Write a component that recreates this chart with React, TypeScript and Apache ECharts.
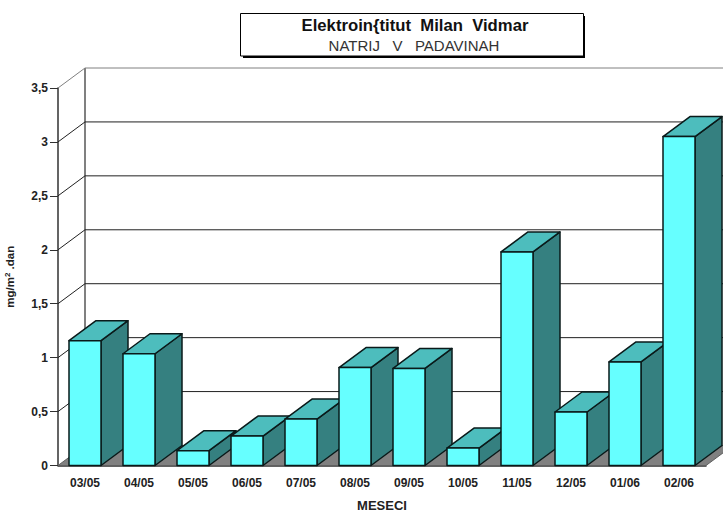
import React, { useEffect, useRef } from "react";
import * as echarts from "echarts";

const categories = ["03/05", "04/05", "05/05", "06/05", "07/05", "08/05", "09/05", "10/05", "11/05", "12/05", "01/06", "02/06"];
const values = [1.157, 1.036, 0.137, 0.273, 0.43, 0.908, 0.9, 0.162, 1.98, 0.496, 0.96, 3.05];
const yTicks = [0, 0.5, 1, 1.5, 2, 2.5, 3, 3.5];
const titleMain = "Elektroin{titut  Milan  Vidmar";
const titleSub = "NATRIJ   V   PADAVINAH";
const xName = "MESECI";

const DX = 27;
const DY = 20;
const BAR_W = 32;
const FONT = "'Liberation Sans', Arial, sans-serif";
const EDGE = "#0a1a1a";

function renderWall(params: any, api: any) {
  const cs = params.coordSys;
  const v = api.value(1);
  const y = api.coord([0, v])[1];
  const isTop = v === yTicks[yTicks.length - 1];
  const color = isTop ? "#808080" : "#202020";
  const children: any[] = [];
  if (v === 0) {
    children.push({
      type: "polygon",
      shape: { points: [[cs.x, y], [cs.x + DX, y - DY], [cs.x + cs.width + DX, y - DY], [cs.x + cs.width, y]] },
      style: { fill: "#808080", stroke: "#606060", lineWidth: 1 },
    });
    children.push({
      type: "line",
      shape: { x1: cs.x + DX, y1: y - DY, x2: cs.x + DX, y2: cs.y - DY },
      style: { stroke: "#808080", lineWidth: 2 },
    });
  } else {
    children.push({
      type: "line",
      shape: { x1: cs.x + DX, y1: y - DY, x2: cs.x + cs.width + DX, y2: y - DY },
      style: { stroke: color, lineWidth: 1 },
    });
    children.push({
      type: "line",
      shape: { x1: cs.x, y1: y, x2: cs.x + DX, y2: y - DY },
      style: { stroke: color, lineWidth: 1 },
    });
  }
  return { type: "group", children };
}

function renderBar(_params: any, api: any) {
  const idx = api.value(0);
  const top = api.coord([idx, api.value(1)]);
  const base = api.coord([idx, 0]);
  const l = top[0] - BAR_W / 2;
  const r = top[0] + BAR_W / 2;
  const t = top[1];
  const b = base[1];
  const border = { stroke: EDGE, lineWidth: 1.5, lineJoin: "round" };
  return {
    type: "group",
    children: [
      {
        type: "polygon",
        shape: { points: [[r, b], [r + DX, b - DY], [r + DX, t - DY], [r, t]] },
        style: { fill: "#358080", ...border },
      },
      {
        type: "polygon",
        shape: { points: [[l, t], [l + DX, t - DY], [r + DX, t - DY], [r, t]] },
        style: { fill: "#4DBDBD", ...border },
      },
      {
        type: "polygon",
        shape: { points: [[l, b], [l, t], [r, t], [r, b]] },
        style: { fill: "#66FFFF", ...border },
      },
    ],
  };
}

export default function App() {
  const ref = useRef<HTMLDivElement>(null);
  useEffect(() => {
    const chart = echarts.init(ref.current!, null, { renderer: "svg" });
    chart.setOption({
      animation: false,
      backgroundColor: "#ffffff",
      grid: { left: 58, right: 17, top: 88, bottom: 45.5, outerBoundsMode: "none", containLabel: false },
      xAxis: {
        type: "category",
        data: categories,
        name: xName,
        nameLocation: "middle",
        nameGap: 33,
        nameTextStyle: { fontFamily: FONT, fontSize: 13, fontWeight: "bold", color: "#222" },
        axisLine: { lineStyle: { color: "#303030", width: 1.5 } },
        axisTick: { length: 7, alignWithLabel: false, lineStyle: { color: "#303030", width: 1 } },
        axisLabel: { fontFamily: FONT, fontSize: 12, fontWeight: "bold", color: "#222", margin: 11, interval: 0 },
      },
      yAxis: {
        type: "value",
        min: 0,
        max: 3.5,
        interval: 0.5,
        name: "{a|mg/m}{b|2}{a| .dan}",
        nameLocation: "middle",
        nameGap: 42,
        nameRotate: 90,
        nameTextStyle: {
          rich: {
            a: { fontFamily: FONT, fontSize: 11.5, fontWeight: "bold", color: "#222" },
            b: { fontFamily: FONT, fontSize: 8, fontWeight: "bold", color: "#222", verticalAlign: "top", padding: [0, 0, 5, 0] },
          },
        },
        splitLine: { show: false },
        axisLine: { show: true, lineStyle: { color: "#303030", width: 1.5 } },
        axisTick: { show: true, length: 8, lineStyle: { color: "#303030", width: 1 } },
        axisLabel: {
          fontFamily: FONT,
          fontSize: 12,
          fontWeight: "bold",
          color: "#222",
          margin: 10,
          formatter: (v: number) => String(v).replace(".", ","),
        },
      },
      series: [
        {
          type: "custom",
          clip: false,
          silent: true,
          renderItem: renderWall,
          data: yTicks.map((t) => [0, t]),
          encode: { x: 0, y: 1 },
          z: 1,
        },
        {
          type: "custom",
          clip: false,
          silent: true,
          renderItem: renderBar,
          data: values.map((v, i) => [i, v]),
          encode: { x: 0, y: 1 },
          z: 5,
        },
      ],
      graphic: [
        { type: "rect", z: 10, shape: { x: 243, y: 16, width: 342, height: 42 }, style: { fill: "#000" } },
        { type: "rect", z: 11, shape: { x: 240.5, y: 13.5, width: 343, height: 42.5 }, style: { fill: "#fff", stroke: "#000", lineWidth: 1 } },
        { type: "text", z: 12, x: 415, y: 25, style: { text: titleMain, fontFamily: FONT, fontSize: 16.7, fontWeight: "bold", fill: "#111", align: "center", verticalAlign: "middle" } },
        { type: "text", z: 12, x: 414, y: 45.5, style: { text: titleSub, fontFamily: FONT, fontSize: 15, fill: "#333", align: "center", verticalAlign: "middle" } },
      ],
    });
    return () => chart.dispose();
  }, []);
  return <div ref={ref} style={{ position: "fixed", left: 0, top: 0, width: 723, height: 511 }} />;
}
